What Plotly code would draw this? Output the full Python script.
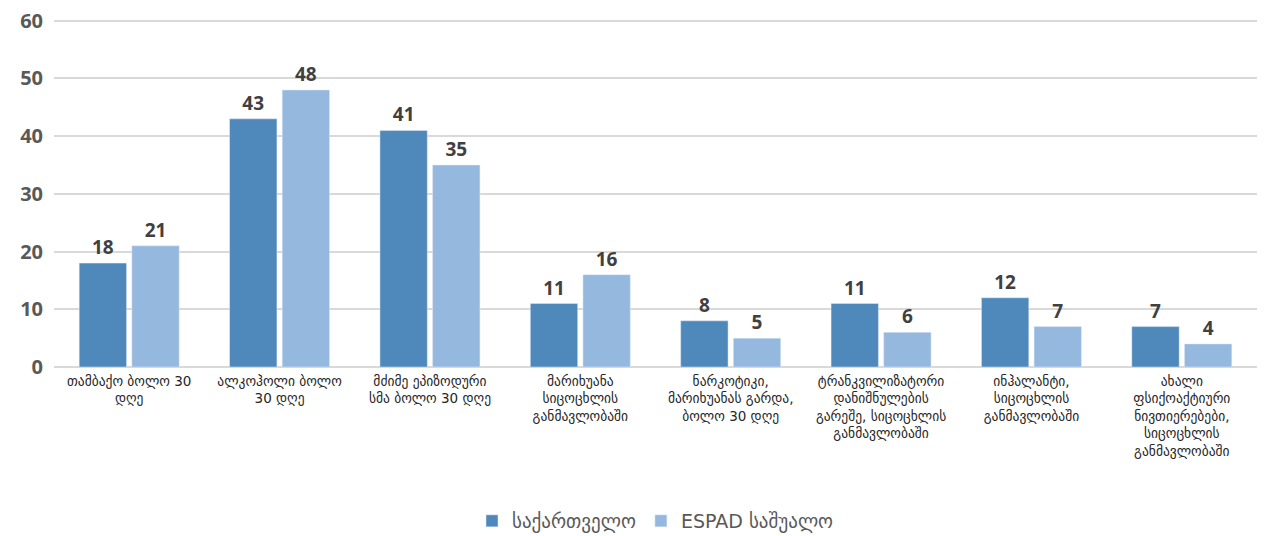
import plotly.graph_objects as go

categories = [
    "თამბაქო ბოლო 30<br>დღე",
    "ალკოჰოლი ბოლო<br>30 დღე",
    "მძიმე ეპიზოდური<br>სმა ბოლო 30 დღე",
    "მარიხუანა<br>სიცოცხლის<br>განმავლობაში",
    "ნარკოტიკი,<br>მარიხუანას გარდა,<br>ბოლო 30 დღე",
    "ტრანკვილიზატორი<br>დანიშნულების<br>გარეშე, სიცოცხლის<br>განმავლობაში",
    "ინჰალანტი,<br>სიცოცხლის<br>განმავლობაში",
    "ახალი<br>ფსიქოაქტიური<br>ნივთიერებები,<br>სიცოცხლის<br>განმავლობაში",
]
georgia = [18, 43, 41, 11, 8, 11, 12, 7]
espad = [21, 48, 35, 16, 5, 6, 7, 4]

label_font = dict(family="Open Sans, DejaVu Sans", size=19, color="#404040", weight="bold")

fig = go.Figure()
fig.add_trace(go.Bar(
    x=categories, y=georgia, name="საქართველო",
    marker=dict(color="#4F88BB"),
    text=georgia, textposition="outside", textfont=label_font, cliponaxis=False,
))
fig.add_trace(go.Bar(
    x=categories, y=espad, name="ESPAD საშუალო",
    marker=dict(color="#95B8DF"),
    text=espad, textposition="outside", textfont=label_font, cliponaxis=False,
))

# la página tiene 8px de margen, así que la figura es algo más pequeña
fig.update_layout(
    width=1259, height=528,
    margin=dict(l=46, r=10, t=11, b=169, autoexpand=False),
    plot_bgcolor="white", paper_bgcolor="white",
    barmode="group", bargap=0.3, bargroupgap=0.1,
    font=dict(family="DejaVu Sans", color="#404040"),
    legend=dict(orientation="h", x=0.5, xanchor="center", y=-0.4425, yanchor="middle",
                font=dict(size=19, color="#595959"), traceorder="normal",
                itemwidth=30),
    showlegend=True,
)
fig.update_yaxes(range=[0, 60.3], tickvals=[0, 10, 20, 30, 40, 50, 60],
                 showgrid=True, gridcolor="#D9D9D9", gridwidth=2,
                 zeroline=True, zerolinecolor="#D9D9D9", zerolinewidth=2,
                 tickfont=dict(family="Open Sans", size=20, color="#595959", weight="bold"),
                 ticks="", ticklabelstandoff=10, automargin=False,
                 ticklabeloverflow="allow")
fig.update_xaxes(tickfont=dict(family="DejaVu Sans", size=13.5, color="#262626"),
                 tickangle=0, ticks="", showline=False, automargin=False,
                 ticklabelstandoff=4)

fig.write_html("out.html")
